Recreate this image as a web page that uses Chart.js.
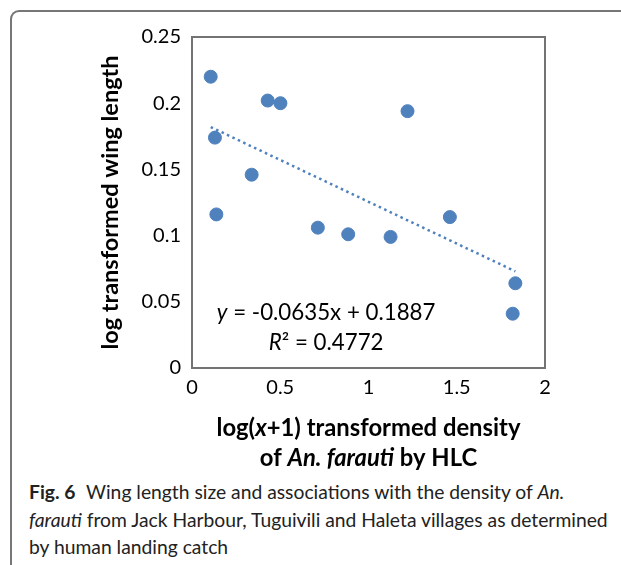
<!DOCTYPE html>
<html>
<head>
<meta charset="utf-8">
<script src="https://cdn.jsdelivr.net/npm/chart.js@4.4.1/dist/chart.umd.min.js"></script>
<style>
  body { margin: 0; background: #fff; width: 621px; height: 565px; overflow: hidden; position: relative; }
  #frame { position: absolute; left: 10px; top: 10px; width: 700px; height: 700px;
    border-top: 2px solid #777; border-left: 2px solid #777; border-top-left-radius: 9px; }
  #wrap { position: absolute; left: 0; top: 0; width: 621px; height: 470px; }
  #caption { position: absolute; left: 29px; top: 478px; font-family: Lato, sans-serif; font-size: 19.3px;
    line-height: 27.5px; color: #222; white-space: nowrap; }
  #caption b { font-weight: bold; margin-right: 6px; }
</style>
</head>
<body>
<div id="frame"></div>
<div id="wrap"><canvas id="Graph_wing"></canvas></div>
<div id="caption"><b>Fig. 6</b> Wing length size and associations with the density of <i>An.</i><br><i>farauti</i> from Jack Harbour, Tuguivili and Haleta villages as determined<br>by human landing catch</div>
<script>
// values
var densite = [0.106, 0.130, 0.138, 0.338, 0.429, 0.501, 0.713, 0.885, 1.125, 1.221, 1.461, 1.832, 1.817];
var aile = [0.220, 0.174, 0.116, 0.146, 0.202, 0.200, 0.106, 0.101, 0.099, 0.194, 0.114, 0.064, 0.041];
var trend_x = [0.106, 1.832];
var trend_y = [0.182, 0.073];
var x_ticks = ['0', '0.5', '1', '1.5', '2'];
var y_ticks = ['0', '0.05', '0.1', '0.15', '0.2', '0.25'];

var bleu = '#4f81bd';
var police = 'Lato, "Liberation Sans", sans-serif';

function texte_riche(ctx, parts, cx, cy) {
  var w = 0;
  parts.forEach(function (p) { ctx.font = p[0]; w += ctx.measureText(p[1]).width; });
  var x = cx - w / 2;
  parts.forEach(function (p) { ctx.font = p[0]; ctx.fillText(p[1], x, cy); x += ctx.measureText(p[1]).width; });
}

var annotations = {
  id: 'annotations',
  beforeDatasetsDraw: function (chart) {
    var a = chart.chartArea, ctx = chart.ctx;
    ctx.save();
    ctx.strokeStyle = '#737373';
    ctx.lineWidth = 2;
    ctx.strokeRect(a.left, a.top, a.right - a.left, a.bottom - a.top);
    ctx.restore();
  },
  afterDraw: function (chart) {
    var ctx = chart.ctx, sx = chart.scales.x, sy = chart.scales.y;
    var a = chart.chartArea;
    ctx.save();
    ctx.fillStyle = '#000';
    ctx.textBaseline = 'middle';
    // equation
    var f = '22.3px ' + police, fi = 'italic 22.3px ' + police;
    texte_riche(ctx, [[fi, 'y'], [f, ' = -0.0635x + 0.1887']], sx.getPixelForValue(0.76), sy.getPixelForValue(0.0415));
    texte_riche(ctx, [[fi, 'R'], [f, '² = 0.4772']], sx.getPixelForValue(0.76), sy.getPixelForValue(0.0194));
    // x axis title
    var b = 'bold 23.8px ' + police, bi = 'italic bold 23.8px ' + police;
    var cx = (a.left + a.right) / 2;
    texte_riche(ctx, [[b, 'log('], [bi, 'x'], [b, '+1) transformed density']], cx, 428);
    texte_riche(ctx, [[b, 'of '], [bi, 'An. farauti'], [b, ' by HLC']], cx, 458);
    ctx.restore();
  }
};

var ctx = document.getElementById('Graph_wing').getContext('2d');

var Graph_wing = new Chart(ctx, {
  type: 'scatter',
  data: {
    datasets: [{
      data: densite.map(function (x, i) { return {x: x, y: aile[i]}; }),
      backgroundColor: bleu,
      borderColor: bleu,
      pointRadius: 6.5,
      pointHoverRadius: 6.5,
    }, {
      type: 'line',
      data: trend_x.map(function (x, i) { return {x: x, y: trend_y[i]}; }),
      borderColor: bleu,
      borderWidth: 2.5,
      borderDash: [2.5, 3.5],
      pointRadius: 0,
      fill: false,
    }]
  },
  options: {
    responsive: true,
    maintainAspectRatio: false,
    animation: false,
    layout: { padding: { left: 84, top: 37, right: 76, bottom: 0 } },
    plugins: { legend: { display: false }, tooltip: { enabled: false } },
    scales: {
      x: {
        type: 'linear', min: 0, max: 2,
        grid: { display: false, drawTicks: false },
        border: { display: false },
        ticks: {
          stepSize: 0.5, padding: 8, color: '#000', maxRotation: 0,
          font: { family: police, size: 20 },
          callback: function (v, i) { return x_ticks[i]; }
        },
        afterFit: function (s) { s.height = 102; }
      },
      y: {
        min: 0, max: 0.25,
        grid: { display: false, drawTicks: false },
        border: { display: false },
        ticks: {
          stepSize: 0.05, padding: 11, color: '#000',
          font: { family: police, size: 20 },
          callback: function (v, i) { return y_ticks[i]; }
        },
        title: {
          display: true, text: 'log transformed wing length', color: '#000',
          font: { family: police, size: 23.5, weight: 'bold' }, padding: { top: 12, bottom: 0 }
        },
        afterFit: function (s) { s.width = 108; }
      }
    }
  },
  plugins: [annotations]
});
</script>
</body>
</html>
